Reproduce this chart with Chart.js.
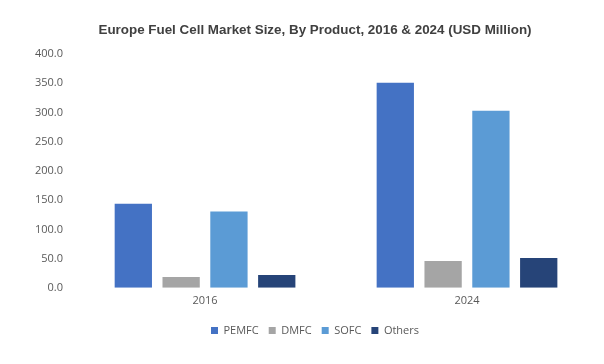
<!DOCTYPE html>
<html>
<head>
<meta charset="utf-8">
<script src="https://cdn.jsdelivr.net/npm/chart.js@4/dist/chart.umd.min.js"></script>
<style>
  html, body { margin: 0; padding: 0; background: #fff; }
  #wrap { width: 604px; height: 364px; position: relative; }
</style>
</head>
<body>
<div id="wrap"><canvas id="market-chart"></canvas></div>
<script>
const years = ["2016", "2024"];
const pemfc = [144, 351];
const dmfc = [18.5, 46];
const sofc = [130.5, 303];
const others = [22, 51];

const ctx = document.getElementById("market-chart");

Chart.defaults.color = "#595959";
Chart.defaults.font.family = "'Open Sans', sans-serif";
Chart.defaults.font.size = 11;

new Chart(ctx, {
  type: "bar",
  data: {
    labels: years,
    datasets: [
      { label: "PEMFC", data: pemfc, backgroundColor: "#4472C4" },
      { label: "DMFC", data: dmfc, backgroundColor: "#A5A5A5" },
      { label: "SOFC", data: sofc, backgroundColor: "#5B9BD5" },
      { label: "Others", data: others, backgroundColor: "#264478" },
    ],
  },
  options: {
    animation: false,
    responsive: true,
    maintainAspectRatio: false,
    categoryPercentage: 0.73,
    barPercentage: 0.78,
    plugins: {
      title: {
        display: true,
        text: "Europe Fuel Cell Market Size, By Product, 2016 & 2024 (USD Million)",
        color: "#404040",
        font: { family: "'Liberation Sans', Arial, sans-serif", size: 13.4, weight: "bold" },
        padding: { top: 22, bottom: 16 },
      },
      legend: {
        position: "bottom",
        labels: {
          boxWidth: 7,
          boxHeight: 7,
          padding: 10,
          color: "#595959",
        },
      },
      tooltip: { enabled: false },
    },
    scales: {
      y: {
        min: 0,
        max: 400,
        ticks: {
          stepSize: 50,
          padding: 3,
          callback: (v) => v.toFixed(1),
        },
        grid: { display: false },
        border: { display: false },
      },
      x: {
        grid: { display: false },
        border: { display: false },
        ticks: { padding: -2 },
        afterFit: (scale) => {
          scale.height += 10;
        },
      },
    },
    layout: {
      padding: { left: 32, right: 6, top: 0, bottom: 18 },
    },
  },
});
</script>
</body>
</html>
